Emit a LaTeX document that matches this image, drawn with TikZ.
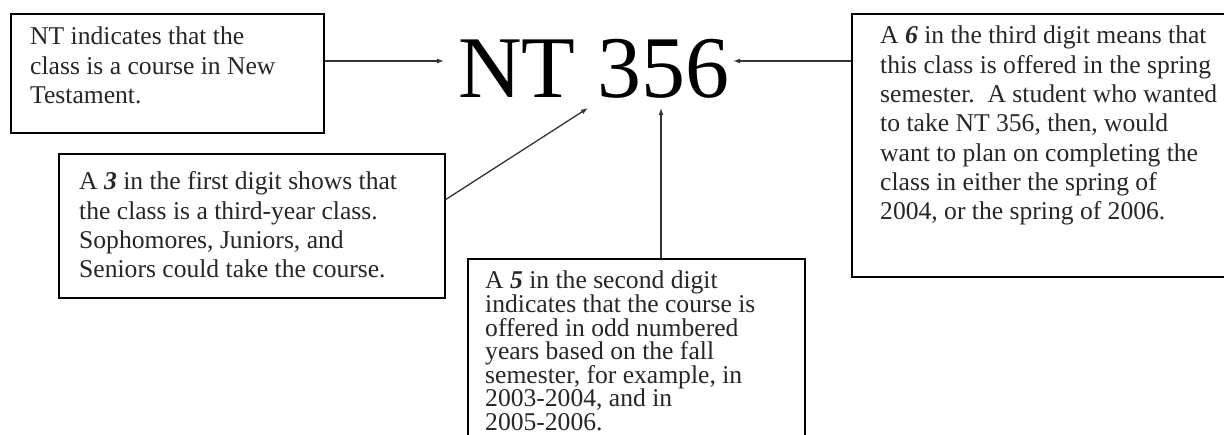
\documentclass[tikz,border=0pt]{standalone}
\usepackage{fontspec}
\setmainfont{Liberation Serif}
\usetikzlibrary{arrows.meta}
\newcommand{\boxlines}[1]{\vtop{\let\\\cr\halign{##\hfil\cr#1\crcr}}}
\tikzset{
  box/.style={draw=black, line width=1.6pt, inner sep=0pt, anchor=north west},
  txt/.style={anchor=base west, inner sep=0pt,
    font=\fontsize{25.6}{29.3}\selectfont, text=black!85},
  tighttxt/.style={txt, font=\fontsize{25.6}{23.6}\selectfont},
  conn/.style={draw=black!80, line width=1.3pt, -{Latex[length=7pt,width=5pt]}}
}
\begin{document}
\begin{tikzpicture}[x=1pt,y=-1pt]
\useasboundingbox (0,0) rectangle (1224,435);
% boxes
\node[box, minimum width=313pt, minimum height=119pt] (b1) at (10,13) {};
\node[box, minimum width=386pt, minimum height=144pt] (b3) at (58,153) {};
\node[box, minimum width=337pt, minimum height=200pt] (b4) at (467,258) {};
\node[box, minimum width=390pt, minimum height=263pt] (b2) at (851,13) {};
% texts
\node[txt] (t1) at (30,45) {\boxlines{NT indicates that the\\class is a course in New\\Testament.}};
\node[txt] (t3) at (79,190) {\boxlines{A \textbf{\textit{3}} in the first digit shows that\\the class is a third-year class.\\Sophomores, Juniors, and\\Seniors could take the course.}};
\node[tighttxt] (t4) at (485,289) {\boxlines{A \textbf{\textit{5}} in the second digit\\indicates that the course is\\offered in odd numbered\\years based on the fall\\semester, for example, in\\2003-2004, and in\\2005-2006.}};
\node[txt] (t2) at (880,44) {\boxlines{A \textbf{\textit{6}} in the third digit means that\\this class is offered in the spring\\semester.\ \ A student who wanted\\to take NT 356, then, would\\want to plan on completing the\\class in either the spring of\\2004, or the spring of 2006.}};
% title
\node[anchor=base west, inner sep=0pt, font=\fontsize{88}{88}\selectfont] (title) at (458,98) {NT 356};
\coordinate (hN) at (444,61);
\coordinate (h6) at (733,61);
\coordinate (h3) at (588,108);
\coordinate (h5) at (661,108);
\coordinate (s3) at (445,200);
% connectors
\draw[conn] (b1.east |- hN) -- (hN);
\draw[conn] (b2.west |- h6) -- (h6);
\draw[conn] (s3) -- (h3);
\draw[conn] (b4.north -| h5) -- (h5);
\end{tikzpicture}
\end{document}
